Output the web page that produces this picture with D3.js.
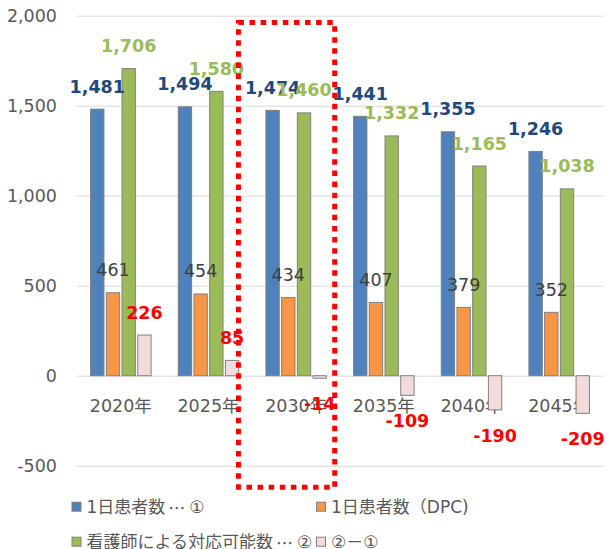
<!DOCTYPE html>
<html>
<head>
<meta charset="utf-8">
<script src="https://cdn.jsdelivr.net/npm/d3@7"></script>
<style>
  body { margin: 0; background: #fff; }
  text { font-family: "DejaVu Sans", "Noto Sans CJK JP", sans-serif; }
</style>
</head>
<body>
<div id="chart-area"></div>
<script>

// Data
const categories = ["2020年", "2025年", "2030年", "2035年", "2040年", "2045年"];
const patients = [1481, 1494, 1474, 1441, 1355, 1246];
const patientsDpc = [461, 454, 434, 407, 379, 352];
const nurseCapacity = [1706, 1580, 1460, 1332, 1165, 1038];
const difference = [226, 85, -14, -109, -190, -209];
const seriesNames = ["1日患者数…①", "1日患者数（DPC)", "看護師による対応可能数…②", "②－①"];
const yTicks = [-500, 0, 500, 1000, 1500, 2000];
const highlightCategory = "2030年";

let series = [
  {key: "a", name: seriesNames[0], values: patients, fill: "#4f81bd", label: "#1f497d", weight: "bold"},
  {key: "b", name: seriesNames[1], values: patientsDpc, fill: "#f79646", label: "#404040", weight: "normal"},
  {key: "c", name: seriesNames[2], values: nurseCapacity, fill: "#9bbb59", label: "#9bbb59", weight: "bold"},
  {key: "d", name: seriesNames[3], values: difference, fill: "#f2dcdb", label: "#ff0000", weight: "bold"}
];

// plain hyphen for negatives, like Excel
let fmt = d3.formatLocale({decimal: ".", thousands: ",", grouping: [3], currency: ["", ""], minus: "-"}).format(",");

// SVG drawing area
let W = 606, H = 549;
let plot = {left: 77, right: 603, top: 15.7, bottom: 465.7};

let svg = d3.select("#chart-area").append("svg")
    .attr("width", W)
    .attr("height", H);

// Scales
let x0 = d3.scaleBand()
    .domain(categories)
    .range([plot.left, plot.right])
    .paddingInner(0.31)
    .paddingOuter(0.155);

let x1 = d3.scaleBand()
    .domain(series.map(s => s.key))
    .range([0, x0.bandwidth()])
    .paddingInner(0.15);

let y = d3.scaleLinear()
    .domain([-500, 2000])
    .range([plot.bottom, plot.top]);

// Axes
let yAxis = d3.axisLeft(y)
    .tickValues(yTicks)
    .tickFormat(fmt)
    .tickSize(-(plot.right - plot.left))
    .tickPadding(20);

let yg = svg.append("g")
    .attr("class", "y-axis")
    .attr("transform", "translate(" + plot.left + ",0)")
    .call(yAxis);
yg.select(".domain").remove();
yg.selectAll("line").attr("stroke", "#d9d9d9");
yg.selectAll("text")
    .attr("fill", "#595959")
    .style("font-size", "17.5px");

let xAxis = d3.axisBottom(x0)
    .tickSize(0)
    .tickPadding(23.4);

let xg = svg.append("g")
    .attr("class", "x-axis")
    .attr("transform", "translate(0," + y(0) + ")")
    .call(xAxis);
xg.select(".domain").remove();
xg.selectAll("text")
    .attr("fill", "#595959")
    .style("font-size", "17.5px");

// Bars
let rows = [];
series.forEach(function(s) {
  categories.forEach(function(c, i) {
    rows.push({cat: c, s: s, v: s.values[i]});
  });
});

svg.append("g").selectAll(".bar")
  .data(rows)
  .enter()
  .append("rect")
    .attr("class", "bar")
    .attr("x", d => x0(d.cat) + x1(d.s.key))
    .attr("y", d => y(Math.max(0, d.v)))
    .attr("width", x1.bandwidth())
    .attr("height", d => Math.abs(y(d.v) - y(0)))
    .attr("fill", d => d.s.fill)
    .attr("stroke", "#808080")
    .attr("stroke-width", 1);

// Data labels
svg.append("g").selectAll(".label")
  .data(rows)
  .enter()
  .append("text")
    .attr("class", "label")
    .attr("x", d => x0(d.cat) + x1(d.s.key) + x1.bandwidth() / 2)
    .attr("y", d => d.v >= 0 ? y(d.v) - 22.5 : y(d.v) + 26)
    .attr("text-anchor", "middle")
    .attr("dominant-baseline", "central")
    .attr("fill", d => d.s.label)
    .style("font-weight", d => d.s.weight)
    .style("font-size", "17.5px")
    .text(d => fmt(d.v));

// Highlight box round 2030
let hx = x0(highlightCategory);
svg.append("rect")
    .attr("x", hx - 27.5)
    .attr("y", y(1962))
    .attr("width", 96.3)
    .attr("height", y(-620) - y(1962))
    .attr("fill", "none")
    .attr("stroke", "#ff0000")
    .attr("stroke-width", 5)
    .attr("stroke-dasharray", "5.5,5.6");

// Legend
let legendPos = [[71.5, 506.7], [316, 506.7], [71.5, 541.7], [316, 541.7]];
let legend = svg.append("g").selectAll(".legend")
  .data(series)
  .enter()
  .append("g")
    .attr("class", "legend")
    .attr("transform", (d, i) => "translate(" + legendPos[i][0] + "," + legendPos[i][1] + ")");

legend.append("rect")
    .attr("x", 0.5)
    .attr("y", -4.5)
    .attr("width", 9)
    .attr("height", 9)
    .attr("fill", d => d.fill)
    .attr("stroke", "#808080");

// ellipsis in the Japanese font so it sits mid-height
legend.append("text")
    .attr("x", 15)
    .attr("dominant-baseline", "central")
    .attr("fill", "#595959")
    .style("font-size", "17px")
    .each(function(d) {
      let t = d3.select(this);
      let after = false;
      d.name.split(/(…)/).forEach(function(part) {
        if (!part) return;
        let ts = t.append("tspan").text(part);
        if (after) ts.attr("dx", 4);
        after = false;
        if (part == "…") {
          ts.style("font-family", "'Noto Sans CJK JP'").attr("dx", 3);
          after = true;
        }
      });
    });

</script>
</body>
</html>
